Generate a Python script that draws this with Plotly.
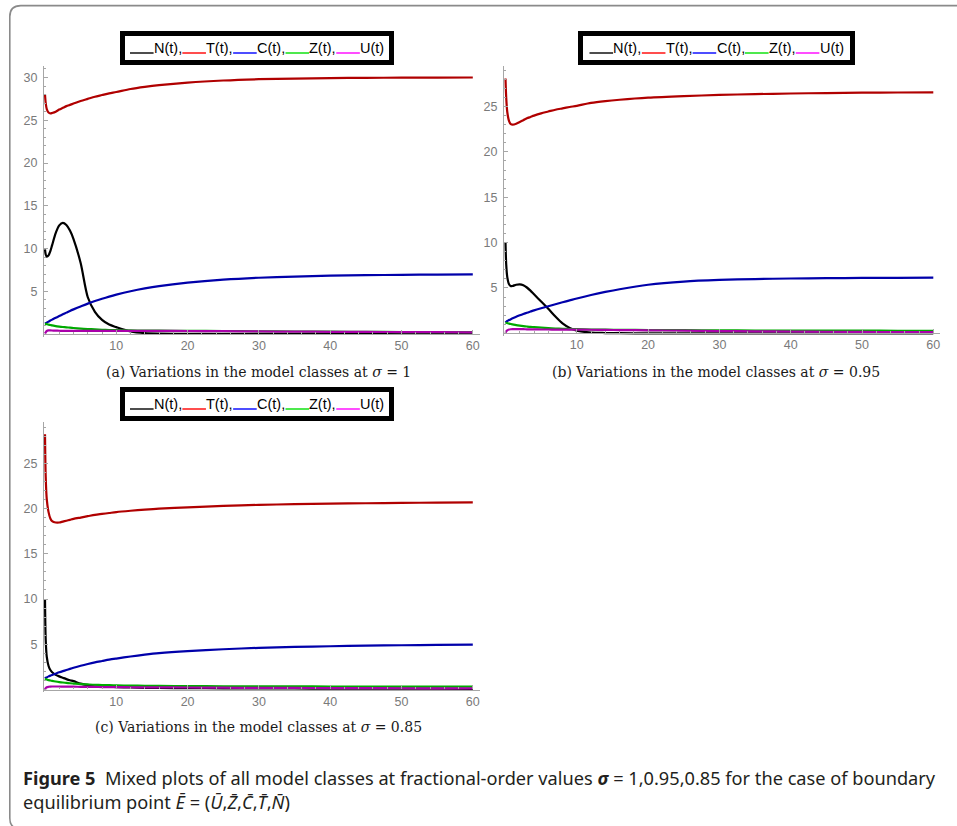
import plotly.graph_objects as go

W, H = 957, 826

# time grid shared by all three panels
t = [0, 0.1, 0.25, 0.5, 0.75, 1, 1.5, 2, 2.5, 3, 3.5, 4, 5, 6, 7, 8, 9, 10,
     12, 14, 16, 20, 25, 30, 35, 40, 45, 50, 55, 60]

# sigma = 1
N_a = [9.9, 9.3, 9.05, 9.2, 9.7, 10.4, 11.8, 12.7, 13.0, 12.75, 12.1, 11.1, 8.3, 4.3, 2.6, 1.65, 1.1,
       0.8, 0.3, 0.1, 0.04, 0.01, 0, 0, 0, 0, 0, 0, 0, 0]
T_a = [28.0, 27.0, 26.3, 25.9, 25.8, 25.85, 26.0, 26.25, 26.45, 26.65, 26.8, 26.95, 27.25, 27.5, 27.75,
       27.95, 28.15, 28.3, 28.65, 28.9, 29.1, 29.4, 29.65, 29.8, 29.88, 29.93, 29.96, 29.98, 29.99, 30.0]
C_a = [1.2, 1.25, 1.33, 1.45, 1.57, 1.68, 1.9, 2.1, 2.3, 2.5, 2.7, 2.88, 3.22, 3.55, 3.85, 4.12, 4.37,
       4.6, 5.0, 5.33, 5.6, 6.0, 6.35, 6.58, 6.72, 6.82, 6.88, 6.92, 6.95, 6.97]
Z_a = [1.2, 1.18, 1.15, 1.1, 1.05, 1.0, 0.93, 0.87, 0.82, 0.78, 0.74, 0.7, 0.63, 0.58, 0.54, 0.5, 0.47,
       0.45, 0.42, 0.4, 0.39, 0.37, 0.34, 0.31, 0.29, 0.27, 0.25, 0.23, 0.22, 0.21]
U_a = [0.05, 0.2, 0.35, 0.42, 0.42, 0.41, 0.39, 0.38, 0.37, 0.37, 0.37, 0.37, 0.37, 0.37, 0.37, 0.37,
       0.37, 0.37, 0.36, 0.36, 0.36, 0.35, 0.33, 0.3, 0.28, 0.26, 0.24, 0.23, 0.21, 0.2]

# sigma = 0.95
N_b = [10.0, 7.6, 6.2, 5.4, 5.2, 5.22, 5.35, 5.4, 5.3, 5.05, 4.7, 4.3, 3.5, 2.7, 1.85, 1.1, 0.6, 0.3,
       0.08, 0.03, 0.01, 0, 0, 0, 0, 0, 0, 0, 0, 0]
T_b = [28.1, 26.0, 24.4, 23.4, 23.05, 23.0, 23.1, 23.3, 23.5, 23.7, 23.85, 24.0, 24.25, 24.45, 24.65,
       24.8, 24.95, 25.08, 25.4, 25.6, 25.75, 25.98, 26.15, 26.28, 26.37, 26.44, 26.49, 26.53, 26.55, 26.57]
C_b = [1.2, 1.27, 1.35, 1.46, 1.56, 1.65, 1.82, 1.98, 2.13, 2.27, 2.4, 2.53, 2.76, 2.98, 3.2, 3.42,
       3.63, 3.84, 4.22, 4.56, 4.86, 5.35, 5.7, 5.88, 5.98, 6.04, 6.08, 6.1, 6.12, 6.13]
Z_b = [1.2, 1.17, 1.13, 1.07, 1.02, 0.98, 0.9, 0.84, 0.79, 0.75, 0.71, 0.68, 0.62, 0.57, 0.53, 0.5,
       0.47, 0.45, 0.42, 0.4, 0.38, 0.36, 0.34, 0.32, 0.31, 0.3, 0.29, 0.29, 0.28, 0.28]
U_b = [0.05, 0.2, 0.33, 0.42, 0.45, 0.46, 0.46, 0.45, 0.45, 0.44, 0.44, 0.43, 0.42, 0.42, 0.41, 0.41,
       0.4, 0.4, 0.39, 0.37, 0.36, 0.33, 0.29, 0.25, 0.22, 0.2, 0.17, 0.15, 0.13, 0.12]

# sigma = 0.85
N_c = [10.0, 5.5, 3.6, 2.6, 2.15, 1.9, 1.62, 1.45, 1.3, 1.15, 1.02, 0.92, 0.65, 0.48, 0.4, 0.34, 0.3,
       0.27, 0.22, 0.19, 0.17, 0.15, 0.13, 0.12, 0.11, 0.1, 0.1, 0.09, 0.09, 0.08]
T_c = [28.2, 23.5, 21.0, 19.6, 18.9, 18.6, 18.45, 18.45, 18.55, 18.65, 18.75, 18.85, 19.0, 19.15, 19.3,
       19.4, 19.5, 19.6, 19.75, 19.88, 19.98, 20.12, 20.28, 20.4, 20.48, 20.54, 20.58, 20.62, 20.65, 20.67]
C_c = [1.2, 1.27, 1.34, 1.45, 1.53, 1.6, 1.75, 1.9, 2.03, 2.15, 2.28, 2.4, 2.62, 2.82, 3.0, 3.15, 3.3,
       3.42, 3.65, 3.85, 4.02, 4.25, 4.45, 4.6, 4.7, 4.78, 4.84, 4.89, 4.93, 4.96]
Z_c = [1.2, 1.15, 1.1, 1.03, 0.99, 0.95, 0.88, 0.82, 0.77, 0.73, 0.69, 0.66, 0.6, 0.56, 0.52, 0.5,
       0.48, 0.46, 0.43, 0.41, 0.4, 0.38, 0.36, 0.35, 0.34, 0.33, 0.33, 0.32, 0.31, 0.31]
U_c = [0.0, 0.15, 0.25, 0.3, 0.32, 0.33, 0.33, 0.33, 0.32, 0.32, 0.31, 0.31, 0.3, 0.29, 0.28, 0.27,
       0.26, 0.26, 0.25, 0.24, 0.23, 0.22, 0.2, 0.18, 0.17, 0.16, 0.15, 0.14, 0.13, 0.12]

series_names = ["N(t)", "T(t)", "C(t)", "Z(t)", "U(t)"]
line_colors = ["#000000", "#b00000", "#0000aa", "#00aa00", "#aa00aa"]
key_colors = ["#000000", "#ff0000", "#0000ff", "#00e000", "#ff00ff"]

x_ticks = [10, 20, 30, 40, 50, 60]
y_ticks = [5, 10, 15, 20, 25, 30]

captions = [
    "(a) Variations in the model classes at <i>σ</i> = 1",
    "(b) Variations in the model classes at <i>σ</i> = 0.95",
    "(c) Variations in the model classes at <i>σ</i> = 0.85",
]

# Arial / Liberation Sans advance widths (em) for the key text
ADV = {"_": 0.556, "N": 0.722, "T": 0.611, "C": 0.722, "Z": 0.611, "U": 0.722,
       "(": 0.333, "t": 0.278, ")": 0.333, ",": 0.278}
KEY_SIZE = 14.5
SWATCH = "___"


def text_width(s, size=KEY_SIZE):
    return sum(ADV[ch] for ch in s) * size


def px_x(p):
    return p / W


def px_y(p):
    return 1 - p / H


# panel geometry in pixels: x-domain, y-domain (top, bottom), pixel row of y = 0, px per y unit
panels = [
    dict(data=[N_a, T_a, C_a, Z_a, U_a], xd=(44, 480), x0=45.0, yd=(66, 337), y0=334.0, sy=8.55,
         cap=(258, 372), box=(120, 31, 394, 65)),
    dict(data=[N_b, T_b, C_b, Z_b, U_b], xd=(504, 940), x0=505.5, yd=(66, 336), y0=333.3, sy=9.07,
         cap=(716, 372), box=(578, 31, 855, 65)),
    dict(data=[N_c, T_c, C_c, Z_c, U_c], xd=(44, 480), x0=45.0, yd=(422, 692), y0=689.5, sy=9.05,
         cap=(258, 727), box=(120, 387, 394, 421)),
]
SX = 7.13  # px per time unit

fig = go.Figure()
layout = dict(
    width=W, height=H, margin=dict(l=0, r=0, t=0, b=0),
    paper_bgcolor="white", plot_bgcolor="rgba(0,0,0,0)", showlegend=False,
)
shapes, annotations = [], []
axis_grey = "#a6a6a6"
tick_font = dict(family="Liberation Sans, Arial, sans-serif", size=12.5, color="#7a7a7a")
key_font = "Liberation Sans, Arial, sans-serif"

for i, p in enumerate(panels):
    sfx = "" if i == 0 else str(i + 1)
    xa, ya = "x" + sfx, "y" + sfx
    for name, col, ys in zip(series_names, line_colors, p["data"]):
        fig.add_trace(go.Scatter(
            x=t, y=ys, mode="lines", name=name, xaxis=xa, yaxis=ya,
            line=dict(color=col, width=2.2, shape="spline", smoothing=0.8),
            hoverinfo="skip",
        ))
    xl, xr = p["xd"]
    yt, yb = p["yd"]
    xrange = [(xl - p["x0"]) / SX, (xr - p["x0"]) / SX]
    yrange = [(p["y0"] - yb) / p["sy"], (p["y0"] - yt) / p["sy"]]
    layout["xaxis" + sfx] = dict(
        domain=[px_x(xl), px_x(xr)], range=xrange, anchor="free", position=px_y(p["y0"]),
        showgrid=False, zeroline=False, showline=True, linecolor=axis_grey, linewidth=1.2,
        tickmode="array", tickvals=x_ticks, ticks="inside", ticklen=4, tickcolor=axis_grey,
        tickfont=tick_font,
        minor=dict(dtick=2, tick0=0, ticks="inside", ticklen=2, tickcolor=axis_grey),
    )
    layout["yaxis" + sfx] = dict(
        domain=[px_y(yb), px_y(yt)], range=yrange, anchor=xa,
        showgrid=False, zeroline=False, showline=True, linecolor=axis_grey, linewidth=1.2,
        tickmode="array", tickvals=y_ticks, ticks="inside", ticklen=4, tickcolor=axis_grey,
        tickfont=tick_font, ticklabelstandoff=3,
        minor=dict(dtick=1, tick0=0, ticks="inside", ticklen=2, tickcolor=axis_grey),
    )

    # framed key above each panel: coloured swatch rules followed by the series labels
    bx0, by0, bx1, by1 = p["box"]
    shapes.append(dict(type="rect", xref="paper", yref="paper",
                       x0=px_x(bx0 + 2.5), x1=px_x(bx1 - 2.5), y0=px_y(by0 + 2.5), y1=px_y(by1 - 2.5),
                       line=dict(color="black", width=5), fillcolor="white", layer="above"))
    segments = []
    for k, (kc, nm) in enumerate(zip(key_colors, series_names)):
        segments.append((SWATCH, kc))
        segments.append((nm + ("," if k < len(series_names) - 1 else ""), None))
    total = sum(text_width(s) for s, _ in segments)
    cursor = (bx0 + bx1) / 2 - total / 2
    ymid = (by0 + by1) / 2
    for s, col in segments:
        w = text_width(s)
        if col is not None:
            shapes.append(dict(type="line", xref="paper", yref="paper",
                               x0=px_x(cursor + 0.3), x1=px_x(cursor + w - 0.3),
                               y0=px_y(ymid + 5.0), y1=px_y(ymid + 5.0),
                               line=dict(color=col, width=1.4), layer="above"))
        else:
            annotations.append(dict(xref="paper", yref="paper", x=px_x(cursor - 1), y=px_y(ymid),
                                    text=s, showarrow=False, xanchor="left", yanchor="middle",
                                    borderpad=0, borderwidth=1,
                                    font=dict(family=key_font, size=KEY_SIZE, color="#000000")))
        cursor += w

    cx, cy = p["cap"]
    annotations.append(dict(xref="paper", yref="paper", x=px_x(cx), y=px_y(cy), text=captions[i],
                            showarrow=False, xanchor="center", yanchor="middle",
                            font=dict(family="DejaVu Serif, serif", size=14, color="#1a1a1a")))

# figure caption
cap_font = dict(family="Noto Sans, Open Sans, sans-serif", size=18.2, color="#231f20")
annotations.append(dict(
    xref="paper", yref="paper", x=px_x(21), y=px_y(778), xanchor="left", yanchor="middle",
    showarrow=False, font=cap_font,
    text="<b>Figure 5</b>  Mixed plots of all model classes at fractional-order values "
         "<b><i>σ</i></b> = 1,0.95,0.85 for the case of boundary",
))
annotations.append(dict(
    xref="paper", yref="paper", x=px_x(21), y=px_y(802), xanchor="left", yanchor="middle",
    showarrow=False, font=cap_font,
    text="equilibrium point <i>Ē</i> = (<i>Ū</i>,<i>Z̄</i>,<i>C̄</i>,<i>T̄</i>,<i>N̄</i>)",
))

# rounded outer frame, open on the right edge
r = 11
lx, ty, by = 9.8, 5.6, 829.0
path = (f"M {px_x(975)},{px_y(ty)} L {px_x(lx + r)},{px_y(ty)} "
        f"Q {px_x(lx)},{px_y(ty)} {px_x(lx)},{px_y(ty + r)} "
        f"L {px_x(lx)},{px_y(by - r)} Q {px_x(lx)},{px_y(by)} {px_x(lx + r)},{px_y(by)} "
        f"L {px_x(975)},{px_y(by)}")
shapes.append(dict(type="path", xref="paper", yref="paper", path=path,
                   line=dict(color="#8a8a8a", width=1.6)))

layout["shapes"] = shapes
layout["annotations"] = annotations
fig.update_layout(**layout)
fig.write_html("out.html")
